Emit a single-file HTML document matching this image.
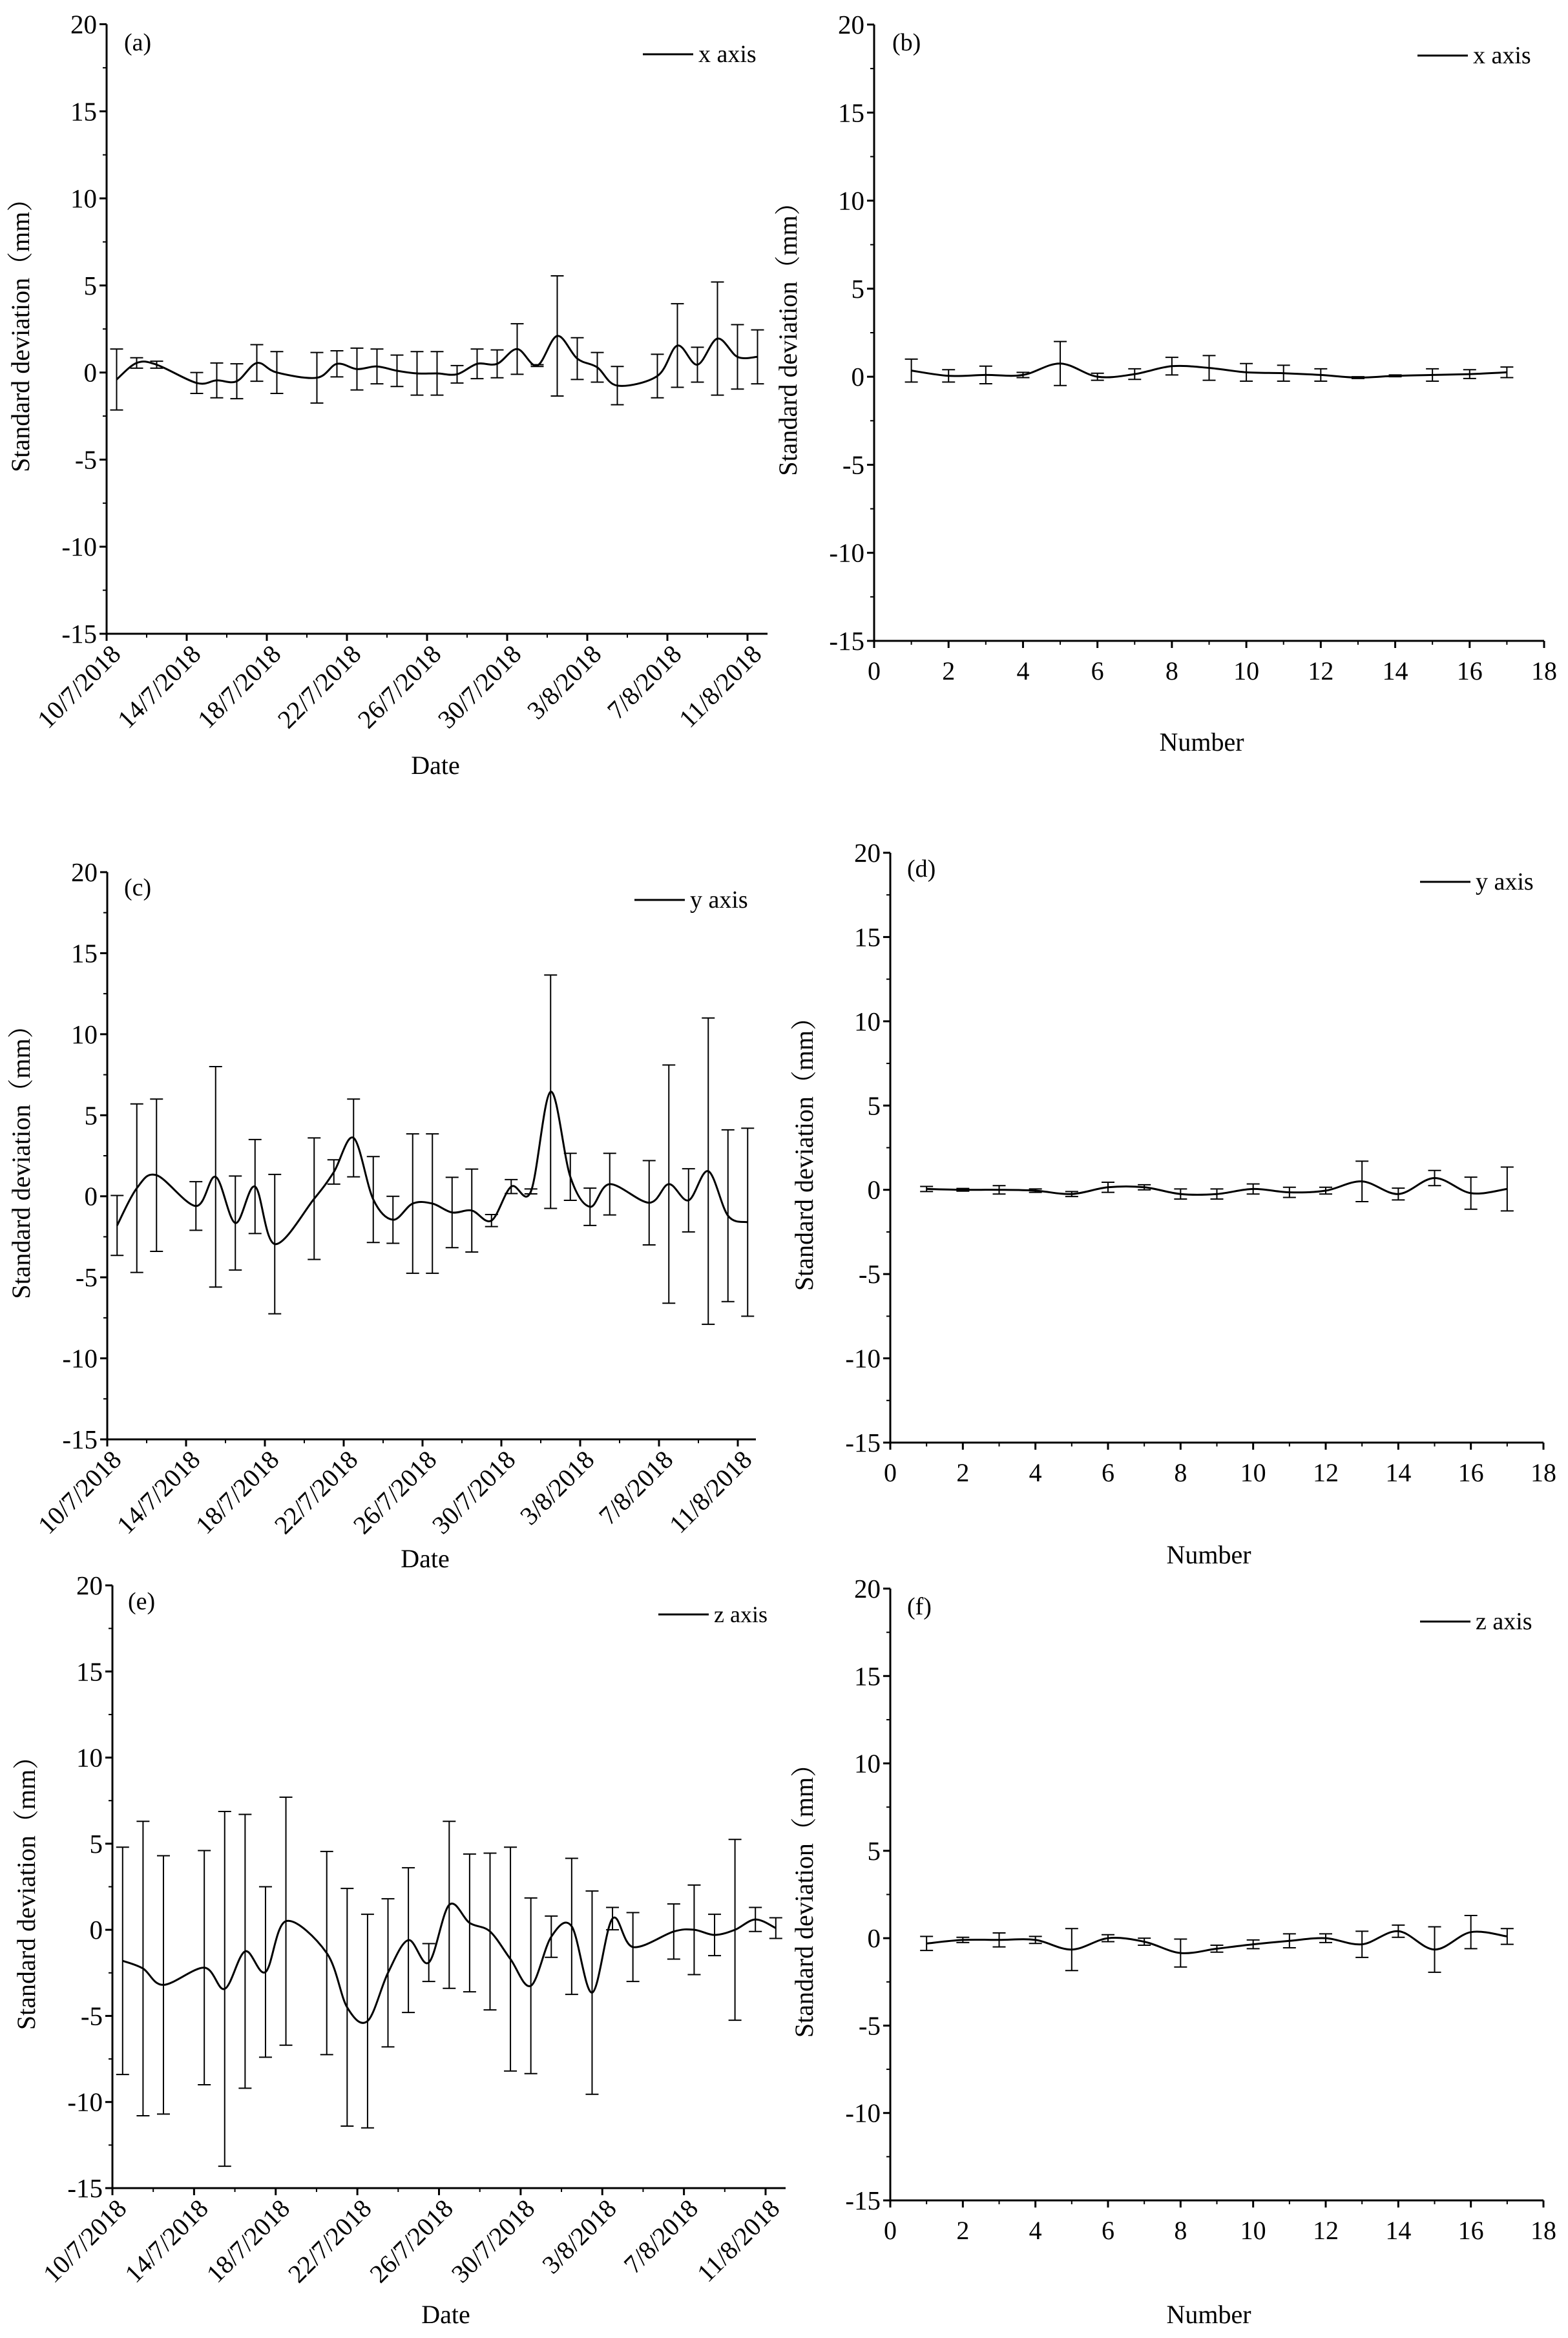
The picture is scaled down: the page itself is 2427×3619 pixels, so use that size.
<!DOCTYPE html>
<html><head><meta charset="utf-8"><style>
html,body{margin:0;padding:0;background:#fff}
svg{display:block}
text{font-family:"Liberation Serif","Noto Serif CJK SC",serif;fill:#000}
</style></head><body>
<svg id="fig" width="2427" height="3619" viewBox="0 0 2427 3619" xmlns="http://www.w3.org/2000/svg"></svg>
<script>
// ---- data ----
const dateLabels = ["10/7/2018","14/7/2018","18/7/2018","22/7/2018","26/7/2018","30/7/2018","3/8/2018","7/8/2018","11/8/2018"];
const dateTickDays = [0,4,8,12,16,20,24,28,32];
const yTicks = [-15,-10,-5,0,5,10,15,20];
const numTicks = [0,2,4,6,8,10,12,14,16,18];
const obsDays = [0.5,1.5,2.5,4.5,5.5,6.5,7.5,8.5,10.5,11.5,12.5,13.5,14.5,15.5,16.5,17.5,18.5,19.5,20.5,21.5,22.5,23.5,24.5,25.5,27.5,28.5,29.5,30.5,31.5,32.5];
const numbers = [1,2,3,4,5,6,7,8,9,10,11,12,13,14,15,16,17];

const aVals = [-0.4,0.55,0.45,-0.6,-0.45,-0.5,0.55,0,-0.3,0.5,0.2,0.35,0.1,-0.05,-0.05,-0.1,0.5,0.5,1.35,0.4,2.1,0.8,0.3,-0.75,-0.2,1.55,0.45,1.95,0.9,0.9];
const aErrs = [1.75,0.3,0.2,0.6,1,1,1.05,1.2,1.45,0.75,1.2,1,0.9,1.25,1.25,0.5,0.85,0.8,1.45,0.05,3.45,1.2,0.85,1.1,1.25,2.4,1,3.25,1.85,1.55];
const bVals = [0.35,0.05,0.1,0.1,0.75,0,0.15,0.6,0.5,0.25,0.2,0.1,-0.05,0.05,0.1,0.15,0.25];
const bErrs = [0.65,0.35,0.5,0.15,1.25,0.2,0.3,0.5,0.7,0.5,0.45,0.35,0.05,0.05,0.35,0.25,0.3];
const cVals = [-1.8,0.5,1.3,-0.6,1.2,-1.65,0.6,-2.95,-0.15,1.5,3.6,-0.2,-1.45,-0.45,-0.45,-1.0,-0.88,-1.5,0.6,0.3,6.45,1.2,-0.65,0.75,-0.4,0.75,-0.25,1.55,-1.2,-1.6];
const cErrs = [1.85,5.2,4.7,1.5,6.8,2.9,2.9,4.3,3.75,0.75,2.4,2.65,1.45,4.3,4.3,2.17,2.56,0.37,0.43,0.15,7.2,1.45,1.15,1.9,2.6,7.35,1.95,9.45,5.3,5.8];
const dVals = [0.05,0,0,-0.05,-0.25,0.15,0.15,-0.25,-0.25,0.05,-0.15,-0.05,0.5,-0.25,0.7,-0.2,0.05];
const dErrs = [0.15,0.08,0.25,0.1,0.15,0.3,0.15,0.3,0.3,0.3,0.3,0.2,1.2,0.35,0.45,0.95,1.3];
const eVals = [-1.8,-2.25,-3.2,-2.2,-3.43,-1.25,-2.45,0.5,-1.35,-4.5,-5.3,-2.5,-0.6,-1.9,1.45,0.4,-0.1,-1.7,-3.25,-0.4,0.2,-3.65,0.65,-1.0,-0.1,0,-0.3,0,0.6,0.1];
const eErrs = [6.6,8.55,7.5,6.8,10.3,7.95,4.95,7.2,5.9,6.9,6.2,4.3,4.2,1.1,4.85,4,4.55,6.5,5.1,1.2,3.95,5.9,0.65,2,1.6,2.6,1.2,5.25,0.7,0.6];
const fVals = [-0.3,-0.1,-0.1,-0.1,-0.65,0,-0.2,-0.85,-0.6,-0.35,-0.15,0,-0.35,0.4,-0.65,0.35,0.1];
const fErrs = [0.4,0.15,0.4,0.2,1.2,0.2,0.2,0.8,0.2,0.25,0.4,0.25,0.75,0.35,1.3,0.95,0.45];

const NS="http://www.w3.org/2000/svg";
const svg=document.getElementById('fig');
function mk(tag,attrs,parent){const e=document.createElementNS(NS,tag);for(const k in attrs)e.setAttribute(k,attrs[k]);(parent||svg).appendChild(e);return e;}

function spline(pts){
  let d="M"+pts[0][0].toFixed(1)+","+pts[0][1].toFixed(1);
  for(let i=0;i<pts.length-1;i++){
    const p0=pts[i-1]||pts[i],p1=pts[i],p2=pts[i+1],p3=pts[i+2]||p2;
    const c1=[p1[0]+(p2[0]-p0[0])/6,p1[1]+(p2[1]-p0[1])/6];
    const c2=[p2[0]-(p3[0]-p1[0])/6,p2[1]-(p3[1]-p1[1])/6];
    d+=" C"+c1[0].toFixed(1)+","+c1[1].toFixed(1)+" "+c2[0].toFixed(1)+","+c2[1].toFixed(1)+" "+p2[0].toFixed(1)+","+p2[1].toFixed(1);
  }
  return d;
}

function panel(c){
  const g=mk('g',{});
  
  
  const ys=v=>c.top+(20-v)*(c.bottom-c.top)/35;
  let xs;
  if(c.mode==='date'){xs=v=>c.left+v*(c.x32-c.left)/32;}
  else{xs=v=>c.left+v*(c.right-c.left)/18;}
  const ya=mk('line',{x1:c.left,y1:c.top,x2:c.left,y2:c.bottom,stroke:'#000','stroke-width':3},g);
  
  
  const xa=mk('line',{x1:c.left,y1:c.bottom,x2:c.right,y2:c.bottom,stroke:'#000','stroke-width':3},g);
  
  
  yTicks.forEach(v=>{
    const y=ys(v);
    mk('line',{x1:c.left-11,y1:y,x2:c.left,y2:y,stroke:'#000','stroke-width':3},g);
    if(v<20)mk('line',{x1:c.left-6,y1:ys(v+2.5),x2:c.left,y2:ys(v+2.5),stroke:'#000','stroke-width':2},g);
    const t=mk('text',{x:c.left-15,y:y+14,'text-anchor':'end','font-size':41},g);
    t.textContent=String(v);
    
    
  });
  if(c.mode==='date'){
    dateTickDays.forEach((d,i)=>{
      const x=xs(d);
      mk('line',{x1:x,y1:c.bottom,x2:x,y2:c.bottom+11,stroke:'#000','stroke-width':3},g);
      if(i<dateTickDays.length-1)mk('line',{x1:xs(d+2),y1:c.bottom,x2:xs(d+2),y2:c.bottom+6,stroke:'#000','stroke-width':2},g);
      const ax=x+24,ay=c.bottom+34;
      const t=mk('text',{x:ax,y:ay,'text-anchor':'end','font-size':40,transform:'rotate(-45 '+ax+' '+ay+')'},g);
      t.textContent=dateLabels[i];
      
      
    });
  } else {
    numTicks.forEach((n,i)=>{
      const x=xs(n);
      mk('line',{x1:x,y1:c.bottom,x2:x,y2:c.bottom+11,stroke:'#000','stroke-width':3},g);
      if(n<18)mk('line',{x1:xs(n+1),y1:c.bottom,x2:xs(n+1),y2:c.bottom+6,stroke:'#000','stroke-width':2},g);
      const t=mk('text',{x:x,y:c.bottom+60,'text-anchor':'middle','font-size':40},g);
      t.textContent=String(n);
      
      
    });
  }
  const xsArr=c.xv;
  xsArr.forEach((xv,i)=>{
    const x=xs(xv),y1=ys(c.vals[i]+c.errs[i]),y2=ys(c.vals[i]-c.errs[i]);
    const eb=mk('path',{d:'M'+x+','+y1+' V'+y2+' M'+(x-10)+','+y1+' H'+(x+10)+' M'+(x-10)+','+y2+' H'+(x+10),stroke:'#000','stroke-width':2,fill:'none'},g);
    
    
  });
  const pts=xsArr.map((xv,i)=>[xs(xv),ys(c.vals[i])]);
  const ln=mk('path',{d:spline(pts),stroke:'#000','stroke-width':3,fill:'none'},g);
  
  
  const pl=mk('text',{x:c.plx,y:c.ply,'font-size':38},g);
  pl.textContent='('+c.id+')';
  
  
  const lg=mk('line',{x1:c.lgx,y1:c.lgy,x2:c.lgx+78,y2:c.lgy,stroke:'#000','stroke-width':3},g);
  
  
  const lt=mk('text',{x:c.lgx+86,y:c.lgy+12,'font-size':38},g);
  if(c.mono){lt.setAttribute('font-family','"Liberation Mono",monospace');lt.setAttribute('font-size',36);}
  lt.textContent=c.legend;
  
  
  const cy=(c.top+c.bottom)/2;
  const yl=mk('text',{x:c.left-120,y:cy,'text-anchor':'middle','font-size':40,transform:'rotate(-90 '+(c.left-120)+' '+cy+')'},g);
  yl.textContent='Standard  deviation（mm）';
  
  
  const xl=mk('text',{x:c.xlx,y:c.xly,'text-anchor':'middle','font-size':40},g);
  xl.textContent=c.mode==='date'?'Date':'Number';
  
  
}

panel({id:'a',mode:'date',left:165,right:1188,x32:1157,top:37.5,bottom:981,xv:obsDays,vals:aVals,errs:aErrs,plx:192,ply:78,lgx:995,lgy:84,legend:'x axis',xlx:674,xly:1198});
panel({id:'b',mode:'num',left:1353,right:2390,top:38,bottom:992,xv:numbers,vals:bVals,errs:bErrs,plx:1381,ply:78,lgx:2194,lgy:86,legend:'x axis',xlx:1860,xly:1162});
panel({id:'c',mode:'date',left:166,right:1170,x32:1142,top:1350,bottom:2228,xv:obsDays,vals:cVals,errs:cErrs,plx:192,ply:1386,lgx:982,lgy:1393,legend:'y axis',xlx:658,xly:2426});
panel({id:'d',mode:'num',left:1378,right:2389,top:1320,bottom:2233,xv:numbers,vals:dVals,errs:dErrs,plx:1404,ply:1357,lgx:2198,lgy:1365,legend:'y axis',xlx:1871,xly:2420});
panel({id:'e',mode:'date',left:174,right:1216,x32:1185,top:2454,bottom:3387,xv:obsDays,vals:eVals,errs:eErrs,plx:198,ply:2491,lgx:1019,lgy:2499,legend:'z axis',mono:true,xlx:690,xly:3596});
panel({id:'f',mode:'num',left:1378,right:2389,top:2459,bottom:3406,xv:numbers,vals:fVals,errs:fErrs,plx:1404,ply:2499,lgx:2198,lgy:2510,legend:'z axis',xlx:1871,xly:3596});
</script>
</body></html>
